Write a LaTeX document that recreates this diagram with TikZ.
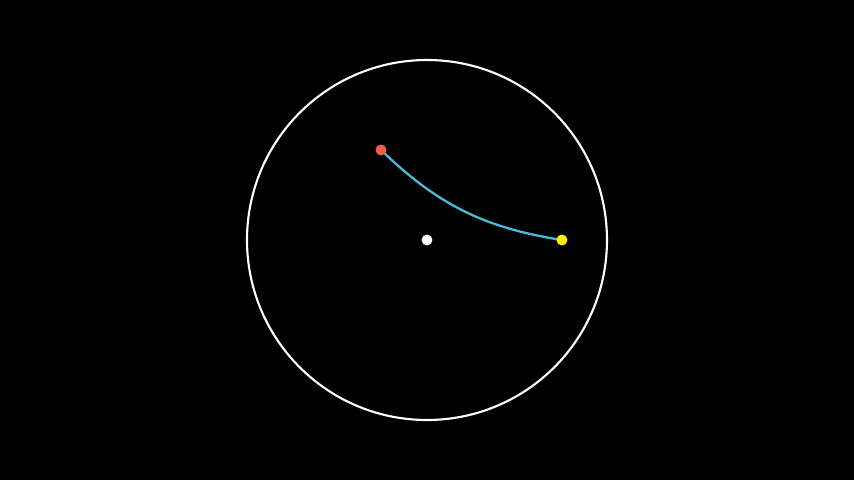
\documentclass[tikz,border=0pt]{standalone}
\usepackage{tikz}
\usetikzlibrary{backgrounds}
\definecolor{BgBlack}{HTML}{000000}
\definecolor{DotRed}{HTML}{F55A4E}
\definecolor{DotYellow}{HTML}{FFF000}
\definecolor{ArcCyan}{HTML}{45BCD8}
\tikzset{
  % Dots
  dot/.style={circle,inner sep=0pt,minimum size=0.22cm},
  dW/.style={dot,fill=white},
  dR/.style={dot,fill=DotRed},
  dY/.style={dot,fill=DotYellow},
  % Lines
  rim/.style={draw=white,line width=1.2pt},
  geo/.style={draw=ArcCyan,line width=1.3pt}
}
\begin{document}
\begin{tikzpicture}
  \useasboundingbox (-8.54,-4.8) rectangle (8.54,4.8);

  % --- disk ---
  \node[circle,rim,minimum size=7.2cm,inner sep=0pt] (disk) at (0,0) {};

  % --- points ---
  \coordinate (pa) at (-0.92,1.8);
  \coordinate (pb) at (2.7,0);

  % --- geodesic ---
  \draw[geo] (pa) to[bend right=17.5] (pb);

  \node[dW] (ctr) at (0,0) {};
  \node[dR] (ra) at (pa) {};
  \node[dY] (yb) at (pb) {};

  \begin{scope}[on background layer]
    \fill[BgBlack] (-8.54,-4.8) rectangle (8.54,4.8);
  \end{scope}
\end{tikzpicture}
\end{document}
